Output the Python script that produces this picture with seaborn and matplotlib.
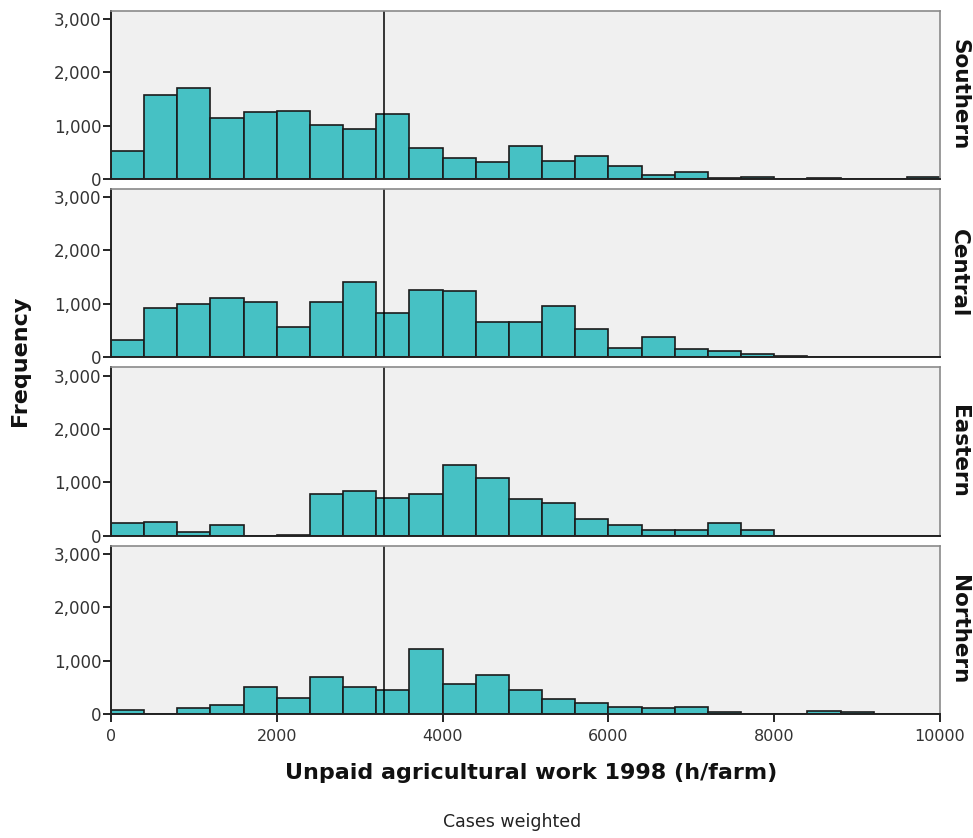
import numpy as np
import pandas as pd
import matplotlib
matplotlib.use("Agg")
import matplotlib.pyplot as plt
import seaborn as sns

# Histogram counts (weighted cases) per 400 h/farm bin, 0 .. 10000
bin_width = 400
x_max = 10000

regions = ["Southern", "Central", "Eastern", "Northern"]

southern = [525, 1575, 1700, 1150, 1250, 1275, 1010, 940, 1220, 580,
            395, 325, 620, 340, 425, 240, 75, 135, 25, 30,
            0, 20, 0, 0, 30]
central = [315, 915, 995, 1100, 1030, 555, 1030, 1405, 825, 1255,
           1230, 655, 665, 955, 525, 175, 375, 150, 120, 60,
           20, 0, 0, 0, 0]
eastern = [240, 255, 75, 210, 0, 20, 790, 845, 710, 790,
           1320, 1075, 680, 620, 305, 205, 100, 100, 245, 105,
           0, 0, 0, 0, 0]
northern = [70, 0, 110, 170, 500, 295, 690, 515, 445, 1210,
            565, 740, 445, 290, 200, 135, 105, 135, 35, 0,
            0, 60, 35, 0, 0]

mean_hours = 3297

counts = {"Southern": southern, "Central": central,
          "Eastern": eastern, "Northern": northern}

centres = np.arange(0, x_max, bin_width) + bin_width / 2
frames = []
for region in regions:
    frames.append(pd.DataFrame({"hours": centres,
                                "cases": counts[region],
                                "region": region}))
df = pd.concat(frames, ignore_index=True)

sns.set_style("white")
plt.rcParams["font.family"] = ["DejaVu Sans"]

fig = plt.figure(figsize=(9.73, 8.38), dpi=100)

# panel layout (figure fractions)
left, width = 0.1141, 0.852
height = 0.2008
bottoms = [0.7864, 0.574, 0.3607, 0.148]

bar_color = "#46C1C4"
for i, region in enumerate(regions):
    ax = fig.add_axes([left, bottoms[i], width, height])
    ax.set_facecolor("#F0F0F0")
    sub = df[df["region"] == region]
    sns.histplot(data=sub, x="hours", weights="cases",
                 binwidth=bin_width, binrange=(0, x_max),
                 ax=ax, color=bar_color, edgecolor="#1b1b1b",
                 linewidth=1.2, alpha=1)
    ax.axvline(mean_hours, color="black", linewidth=1.1)
    ax.set_xlim(0, x_max)
    ax.set_ylim(0, 3155)
    ax.set_yticks([0, 1000, 2000, 3000])
    ax.set_yticklabels(["0", "1,000", "2,000", "3,000"])
    ax.tick_params(axis="y", direction="out", length=6, width=1.2,
                   color="black", labelsize=12, labelcolor="#333333", pad=1,
                   left=True)
    ax.set_ylabel("")
    ax.set_xlabel("")
    for side in ["top", "right"]:
        ax.spines[side].set_color("#8a8a8a")
        ax.spines[side].set_linewidth(1.2)
    for side in ["left", "bottom"]:
        ax.spines[side].set_color("#222222")
        ax.spines[side].set_linewidth(1.4)
    ax.text(1.011, 0.5, region, transform=ax.transAxes, rotation=-90,
            ha="left", va="center", fontsize=15.5, fontweight="bold",
            color="#111111")
    if i < len(regions) - 1:
        ax.set_xticks([])
    else:
        ax.set_xticks(np.arange(0, x_max + 1, 2000))
        ax.tick_params(axis="x", direction="out", length=6, width=1.2,
                       color="black", labelsize=11.5, labelcolor="#333333",
                       pad=5, bottom=True)

fig.text(0.021, 0.570, "Frequency", rotation=90, ha="center", va="center",
         fontsize=16, fontweight="bold", color="#111111")
fig.text(0.546, 0.077, "Unpaid agricultural work 1998 (h/farm)",
         ha="center", va="center", fontsize=16, fontweight="bold",
         color="#111111")
fig.text(0.526, 0.019, "Cases weighted", ha="center", va="center",
         fontsize=12.5, color="#222222")

fig.savefig("out.png", dpi=100)
